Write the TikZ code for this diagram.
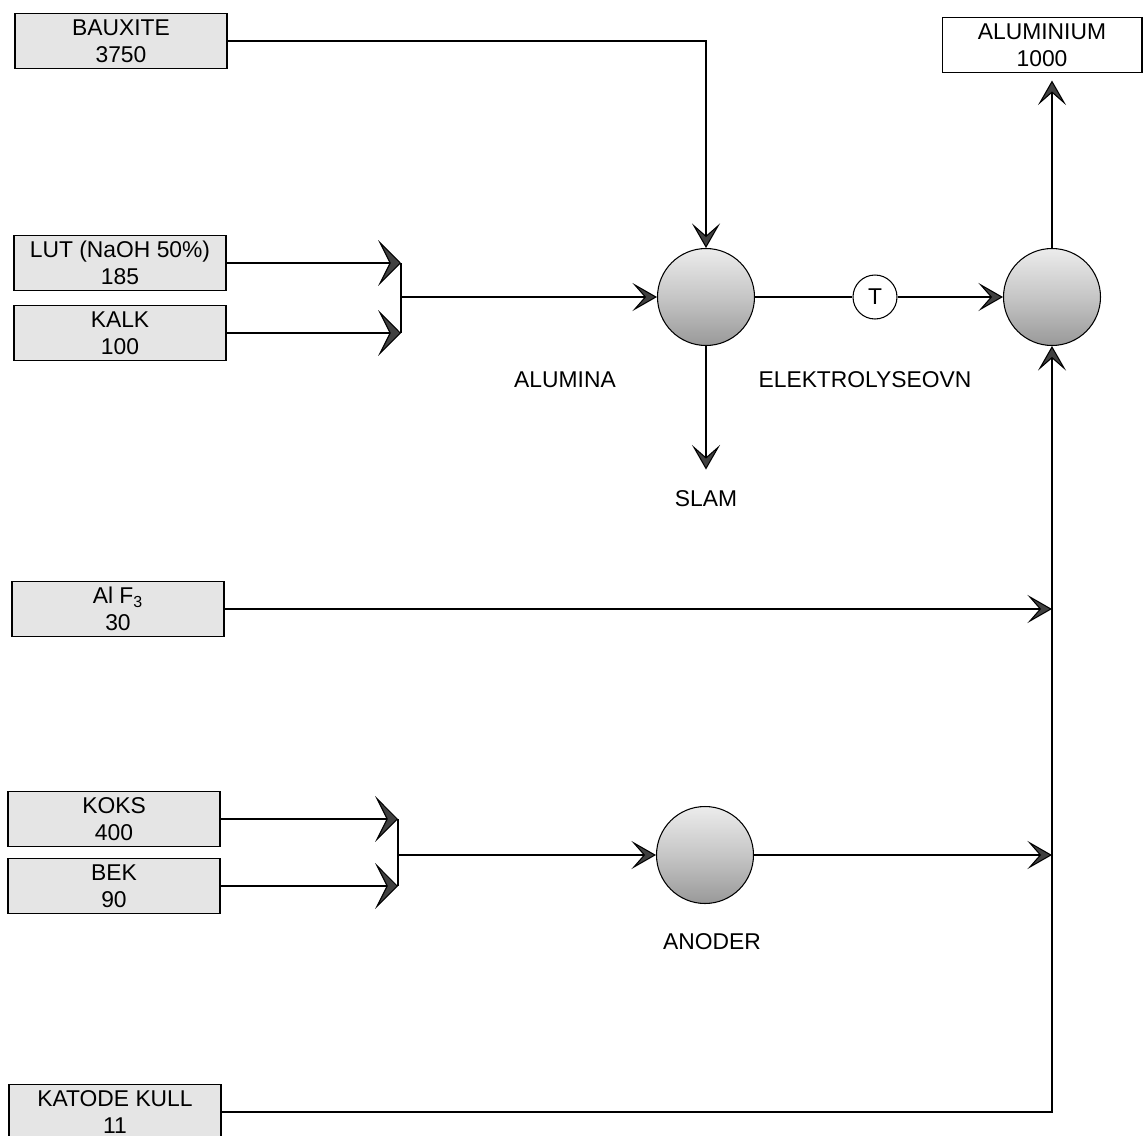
\documentclass[tikz,border=0pt]{standalone}
\usepackage{fontspec}
\setmainfont{Liberation Sans}
\usetikzlibrary{arrows.meta}
\tikzstyle{feed}=[rectangle, draw, fill=gray!20, minimum width=4.24cm, minimum height=1.1cm, inner sep=0pt, align=center, font=\fontsize{13}{15.4}\selectfont]
\tikzstyle{ball}=[circle, draw, inner sep=0pt, minimum size=1.94cm, top color=gray!15, bottom color=gray!80, middle color=gray!45]
\tikzstyle{tag}=[font=\fontsize{13}{15.4}\selectfont]
\tikzstyle{flow}=[-{Stealth[length=14pt,width=16pt,inset=7pt,fill=black!75]}]
\tikzstyle{bigflow}=[-{Stealth[length=13pt,width=26pt,inset=6.5pt,fill=black!75]}]
\newcommand{\feed}{\node[feed]}
\newcommand{\ball}{\node[ball]}

\begin{document}
\begin{tikzpicture}[x=0.02cm, y=-0.02cm, line width=0.6pt]
	\useasboundingbox (0,0) rectangle (1143,1136);
	\feed (baux) at (121,41) {BAUXITE\\3750};
	\feed (lut) at (120,263) {LUT (NaOH 50\%)\\185};
	\feed (kalk) at (120,333) {KALK\\100};
	\feed (alf) at (118,609) {Al F\textsubscript{3}\\30};
	\feed (koks) at (114,819) {KOKS\\400};
	\feed (bek) at (114,886) {BEK\\90};
	\feed (kat) at (115,1112) {KATODE KULL\\11};
	\feed[fill=white, minimum width=4.0cm] (alu) at (1042,45) {ALUMINIUM\\1000};

	\ball (al) at (706,297) {};
	\ball (el) at (1052,297) {};
	\ball (an) at (705,855) {};
	\node[circle, draw, fill=white, minimum size=0.88cm, inner sep=0pt, tag] (t) at (875,297) {T};

	\node[tag] (alumina) at (565,380) {ALUMINA};
	\node[tag] (elo) at (865,380) {ELEKTROLYSEOVN};
	\node[tag] (slam) at (706,499) {SLAM};
	\node[tag] (anoder) at (712,942) {ANODER};

	\coordinate (b1) at (401,297);
	\coordinate (b2) at (398,855);
	\coordinate (j1) at (1052,609);
	\coordinate (j2) at (1052,855);

	% alumina
	\draw[flow] (baux) -| (al);
	\draw[bigflow] (lut) -- (lut -| b1);
	\draw[bigflow] (kalk) -- (kalk -| b1);
	\draw (lut -| b1) -- (kalk -| b1);
	\draw[flow] (b1) -- (al);
	\draw[flow, shorten >=0.3cm] (al) -- (slam);

	% elektrolyse
	\draw (al) -- (t);
	\draw[flow] (t) -- (el);
	\draw[flow, shorten >=0.15cm] (el) -- (el |- alu.south);
	\draw[flow] (alf) -- (j1);

	% anoder
	\draw[bigflow] (koks) -- (koks -| b2);
	\draw[bigflow] (bek) -- (bek -| b2);
	\draw (koks -| b2) -- (bek -| b2);
	\draw[flow] (b2) -- (an);
	\draw[flow] (an) -- (j2);
	\draw[flow] (kat) -| (el);
\end{tikzpicture}
\end{document}
